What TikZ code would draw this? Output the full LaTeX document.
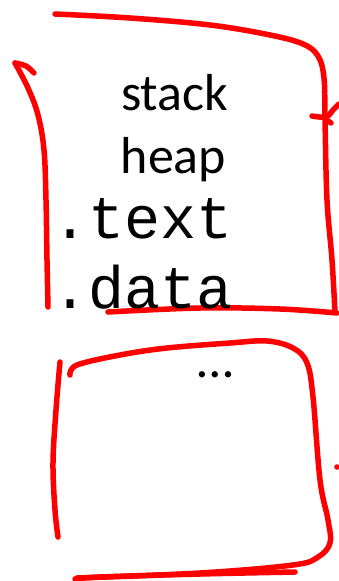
\documentclass[tikz,border=0pt]{standalone}
\usepackage{fontspec}
\setmainfont{Carlito}
\setmonofont{Liberation Mono}
\tikzset{
  ink/.style={red, line width=5.5pt, line cap=round, line join=round},
  label/.style={inner sep=0pt, anchor=base west, font=\fontsize{52}{62}\selectfont},
  codelabel/.style={inner sep=0pt, anchor=base west, font=\fontsize{60}{68}\selectfont\ttfamily}
}
\begin{document}
\begin{tikzpicture}[x=1pt, y=-1pt]
    \useasboundingbox (0,0) rectangle (339,581);

    % upper box
    \draw [ink] plot [smooth, tension=0.6] coordinates {(55,14) (130,18) (210,25) (270,35) (303,44) (318,56) (324,78) (325,120) (327,200) (332,260) (335,312)};
    \draw [ink] plot [smooth, tension=0.6] coordinates {(34,73) (26,66) (15,63)};
    \draw [ink] plot [smooth, tension=0.6] coordinates {(15,63) (28,88) (38,115) (44,150) (46,200) (47,260) (48,307)};
    \draw [ink] plot [smooth, tension=0.6] coordinates {(108,312) (200,308) (280,309) (337,313)};
    \draw [ink] plot [smooth, tension=0.6] coordinates {(312,116) (326,117) (333,110) (339,104)};
    \draw [ink] (328,121) -- (331,123);

    % lower box
    \draw [ink] plot [smooth, tension=0.6] coordinates {(60,362) (56,410) (53,463) (55,510) (58,537)};
    \draw [ink] plot [smooth, tension=0.6] coordinates {(70,375) (77,365) (120,355) (167,348) (230,343) (267,341) (293,348) (307,363) (313,397) (320,480) (328,520) (330,543) (318,557) (293,565) (200,573) (77,578)};
    \draw [ink] plot [smooth, tension=0.6] coordinates {(295,572) (200,574) (100,577) (75,579)};
    \fill [red] (337,467) circle (2.8pt);

    % labels
    \node [label] (stacklbl) at (121,110) {stack};
    \node [label] (heaplbl) at (120.5,173) {heap};
    \node [codelabel] (textlbl) at (52,238) {.text};
    \node [codelabel] (datalbl) at (52,308) {.data};
    \node [label] (dotslbl) at (197,377) {…};
\end{tikzpicture}
\end{document}
